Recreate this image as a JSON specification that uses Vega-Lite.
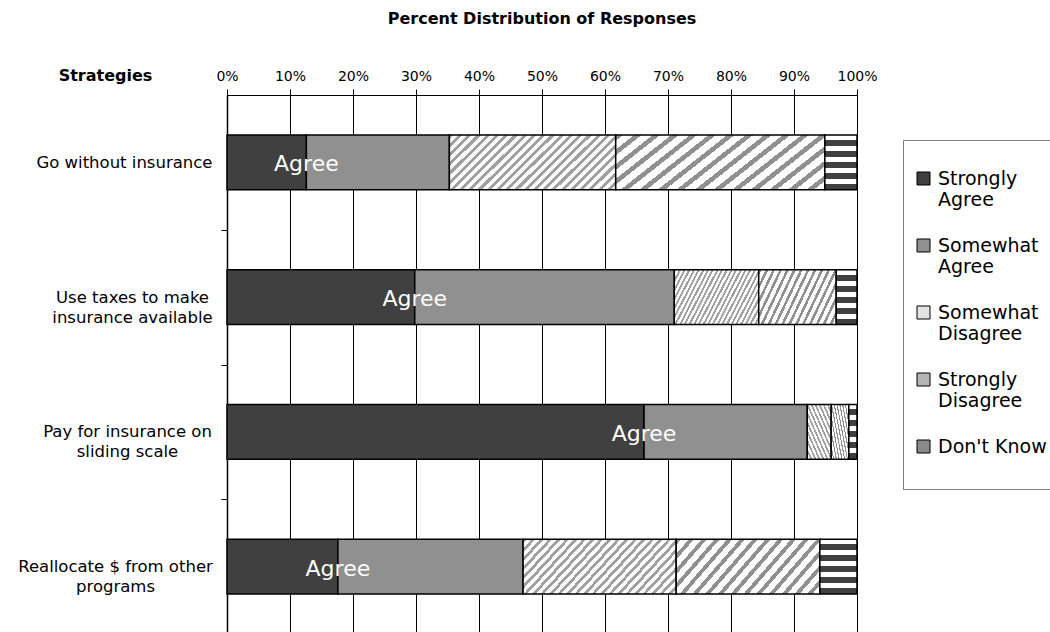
{
  "$schema": "https://vega.github.io/schema/vega-lite/v6.json",
  "width": 630,
  "height": 539,
  "autosize": "none",
  "padding": {"left": 227, "top": 95, "right": 193, "bottom": 0},
  "background": "white",
  "config": {"font": "DejaVu Sans", "view": {"stroke": null}},
  "title": {"text": "Percent Distribution of Responses", "fontSize": 16, "fontWeight": "bold", "font": "DejaVu Sans", "anchor": "middle", "offset": 40, "color": "black"},
  "data": {"values": [
    {"strategy": "Go without insurance", "response": "Strongly Agree", "k": 1, "pct": 12.6},
    {"strategy": "Go without insurance", "response": "Somewhat Agree", "k": 2, "pct": 22.7},
    {"strategy": "Go without insurance", "response": "Somewhat Disagree", "k": 3, "pct": 26.4},
    {"strategy": "Go without insurance", "response": "Strongly Disagree", "k": 4, "pct": 33.2},
    {"strategy": "Go without insurance", "response": "Don't Know", "k": 5, "pct": 5.1},
    {"strategy": "Use taxes to make insurance available", "response": "Strongly Agree", "k": 1, "pct": 29.8},
    {"strategy": "Use taxes to make insurance available", "response": "Somewhat Agree", "k": 2, "pct": 41.2},
    {"strategy": "Use taxes to make insurance available", "response": "Somewhat Disagree", "k": 3, "pct": 13.4},
    {"strategy": "Use taxes to make insurance available", "response": "Strongly Disagree", "k": 4, "pct": 12.3},
    {"strategy": "Use taxes to make insurance available", "response": "Don't Know", "k": 5, "pct": 3.3},
    {"strategy": "Pay for insurance on sliding scale", "response": "Strongly Agree", "k": 1, "pct": 66.2},
    {"strategy": "Pay for insurance on sliding scale", "response": "Somewhat Agree", "k": 2, "pct": 25.9},
    {"strategy": "Pay for insurance on sliding scale", "response": "Somewhat Disagree", "k": 3, "pct": 3.8},
    {"strategy": "Pay for insurance on sliding scale", "response": "Strongly Disagree", "k": 4, "pct": 2.8},
    {"strategy": "Pay for insurance on sliding scale", "response": "Don't Know", "k": 5, "pct": 1.3},
    {"strategy": "Reallocate $ from other programs", "response": "Strongly Agree", "k": 1, "pct": 17.6},
    {"strategy": "Reallocate $ from other programs", "response": "Somewhat Agree", "k": 2, "pct": 29.4},
    {"strategy": "Reallocate $ from other programs", "response": "Somewhat Disagree", "k": 3, "pct": 24.3},
    {"strategy": "Reallocate $ from other programs", "response": "Strongly Disagree", "k": 4, "pct": 22.8},
    {"strategy": "Reallocate $ from other programs", "response": "Don't Know", "k": 5, "pct": 5.9}
  ]},
  "layer": [
    {
      "mark": {"type": "bar", "stroke": "black", "strokeWidth": 1.5},
      "encoding": {
        "y": {"field": "strategy", "type": "nominal", "sort": null,
          "scale": {"paddingInner": 0.593, "paddingOuter": 0.296},
          "axis": {"title": "Strategies", "titleAngle": 0, "titleX": -122, "titleY": -20, "titleAlign": "center", "titleBaseline": "middle", "titleFontSize": 16, "titleFontWeight": "bold", "titleColor": "black", "titleFont": "DejaVu Sans",
            "labelAlign": {"condition": {"test": "datum.value == 'Go without insurance'", "value": "right"}, "value": "center"},
            "labelPadding": {"condition": [{"test": "datum.value == 'Go without insurance'", "value": 9}, {"test": "datum.value == 'Use taxes to make insurance available'", "value": 89}, {"test": "datum.value == 'Pay for insurance on sliding scale'", "value": 94}], "value": 106},
            "labelFontSize": 16.5, "labelLineHeight": 20, "labelColor": "black", "labelFont": "DejaVu Sans", "labelLimit": 300,
            "labelExpr": "datum.label == 'Use taxes to make insurance available' ? ['Use taxes to make','insurance available'] : datum.label == 'Pay for insurance on sliding scale' ? ['Pay for insurance on','sliding scale'] : datum.label == 'Reallocate $ from other programs' ? ['Reallocate $ from other','programs'] : datum.label",
            "tickOffset": 67.4, "labelOffset": -67.4, "tickSize": 6, "tickColor": "black", "domainColor": "black", "domainWidth": 1.5}},
        "x": {"field": "pct", "type": "quantitative", "stack": "zero", "scale": {"domain": [0, 100]},
          "axis": {"orient": "top", "title": null, "values": [0, 10, 20, 30, 40, 50, 60, 70, 80, 90, 100], "labelExpr": "datum.value + '%'", "labelFlush": false, "grid": true, "gridColor": "black", "gridWidth": 1, "gridOpacity": 1, "domainColor": "black", "tickColor": "black", "tickSize": 6, "labelFontSize": 14, "labelColor": "black", "labelPadding": 6, "labelFont": "DejaVu Sans"}},
        "order": {"field": "k", "type": "quantitative"},
        "fill": {"field": "response", "type": "nominal",
          "scale": {"domain": ["Strongly Agree", "Somewhat Agree", "Somewhat Disagree", "Strongly Disagree", "Don't Know"], "range": ["#404040", "#909090", "#e2e2e2", "#b4b4b4", "#8a8a8a"]},
          "legend": {"orient": "none", "legendX": 676, "legendY": 45, "title": " ", "titleFontSize": 12, "titlePadding": 6, "fillColor": "white", "strokeColor": "#7f7f7f", "padding": 11, "symbolType": "square", "symbolSize": 169, "symbolStrokeColor": "black", "symbolStrokeWidth": 1, "labelFontSize": 19, "labelColor": "black", "labelFont": "DejaVu Sans", "labelOffset": 5, "rowPadding": 26, "labelLineHeight": 22, "labelLimit": 300,
            "labelExpr": "datum.label === \"Don't Know\" ? [datum.label, ''] : split(datum.label, ' ')"},
          "condition": [
            {"test": "datum.response === 'Somewhat Disagree'", "value": {"gradient": "linear", "x1": 0, "y1": 0, "x2": 1.2, "y2": 0.4, "stops": [
              {"offset": 0, "color": "#a0a0a0"}, {"offset": 0.0188, "color": "#a0a0a0"}, {"offset": 0.0188, "color": "white"}, {"offset": 0.0417, "color": "white"},
              {"offset": 0.0417, "color": "#a0a0a0"}, {"offset": 0.0604, "color": "#a0a0a0"}, {"offset": 0.0604, "color": "white"}, {"offset": 0.0833, "color": "white"},
              {"offset": 0.0833, "color": "#a0a0a0"}, {"offset": 0.1021, "color": "#a0a0a0"}, {"offset": 0.1021, "color": "white"}, {"offset": 0.125, "color": "white"},
              {"offset": 0.125, "color": "#a0a0a0"}, {"offset": 0.1438, "color": "#a0a0a0"}, {"offset": 0.1438, "color": "white"}, {"offset": 0.1667, "color": "white"},
              {"offset": 0.1667, "color": "#a0a0a0"}, {"offset": 0.1854, "color": "#a0a0a0"}, {"offset": 0.1854, "color": "white"}, {"offset": 0.2083, "color": "white"},
              {"offset": 0.2083, "color": "#a0a0a0"}, {"offset": 0.2271, "color": "#a0a0a0"}, {"offset": 0.2271, "color": "white"}, {"offset": 0.25, "color": "white"},
              {"offset": 0.25, "color": "#a0a0a0"}, {"offset": 0.2688, "color": "#a0a0a0"}, {"offset": 0.2688, "color": "white"}, {"offset": 0.2917, "color": "white"},
              {"offset": 0.2917, "color": "#a0a0a0"}, {"offset": 0.3104, "color": "#a0a0a0"}, {"offset": 0.3104, "color": "white"}, {"offset": 0.3333, "color": "white"},
              {"offset": 0.3333, "color": "#a0a0a0"}, {"offset": 0.3521, "color": "#a0a0a0"}, {"offset": 0.3521, "color": "white"}, {"offset": 0.375, "color": "white"},
              {"offset": 0.375, "color": "#a0a0a0"}, {"offset": 0.3938, "color": "#a0a0a0"}, {"offset": 0.3938, "color": "white"}, {"offset": 0.4167, "color": "white"},
              {"offset": 0.4167, "color": "#a0a0a0"}, {"offset": 0.4354, "color": "#a0a0a0"}, {"offset": 0.4354, "color": "white"}, {"offset": 0.4583, "color": "white"},
              {"offset": 0.4583, "color": "#a0a0a0"}, {"offset": 0.4771, "color": "#a0a0a0"}, {"offset": 0.4771, "color": "white"}, {"offset": 0.5, "color": "white"},
              {"offset": 0.5, "color": "#a0a0a0"}, {"offset": 0.5188, "color": "#a0a0a0"}, {"offset": 0.5188, "color": "white"}, {"offset": 0.5417, "color": "white"},
              {"offset": 0.5417, "color": "#a0a0a0"}, {"offset": 0.5604, "color": "#a0a0a0"}, {"offset": 0.5604, "color": "white"}, {"offset": 0.5833, "color": "white"},
              {"offset": 0.5833, "color": "#a0a0a0"}, {"offset": 0.6021, "color": "#a0a0a0"}, {"offset": 0.6021, "color": "white"}, {"offset": 0.625, "color": "white"},
              {"offset": 0.625, "color": "#a0a0a0"}, {"offset": 0.6438, "color": "#a0a0a0"}, {"offset": 0.6438, "color": "white"}, {"offset": 0.6667, "color": "white"},
              {"offset": 0.6667, "color": "#a0a0a0"}, {"offset": 0.6854, "color": "#a0a0a0"}, {"offset": 0.6854, "color": "white"}, {"offset": 0.7083, "color": "white"},
              {"offset": 0.7083, "color": "#a0a0a0"}, {"offset": 0.7271, "color": "#a0a0a0"}, {"offset": 0.7271, "color": "white"}, {"offset": 0.75, "color": "white"},
              {"offset": 0.75, "color": "#a0a0a0"}, {"offset": 0.7688, "color": "#a0a0a0"}, {"offset": 0.7688, "color": "white"}, {"offset": 0.7917, "color": "white"},
              {"offset": 0.7917, "color": "#a0a0a0"}, {"offset": 0.8104, "color": "#a0a0a0"}, {"offset": 0.8104, "color": "white"}, {"offset": 0.8333, "color": "white"},
              {"offset": 0.8333, "color": "#a0a0a0"}, {"offset": 0.8521, "color": "#a0a0a0"}, {"offset": 0.8521, "color": "white"}, {"offset": 0.875, "color": "white"},
              {"offset": 0.875, "color": "#a0a0a0"}, {"offset": 0.8938, "color": "#a0a0a0"}, {"offset": 0.8938, "color": "white"}, {"offset": 0.9167, "color": "white"},
              {"offset": 0.9167, "color": "#a0a0a0"}, {"offset": 0.9354, "color": "#a0a0a0"}, {"offset": 0.9354, "color": "white"}, {"offset": 0.9583, "color": "white"},
              {"offset": 0.9583, "color": "#a0a0a0"}, {"offset": 0.9771, "color": "#a0a0a0"}, {"offset": 0.9771, "color": "white"}, {"offset": 1, "color": "white"}
            ]}},
            {"test": "datum.response === 'Strongly Disagree'", "value": {"gradient": "linear", "x1": 0, "y1": 0, "x2": 1.2, "y2": 0.4, "stops": [
              {"offset": 0, "color": "#909090"}, {"offset": 0.0267, "color": "#909090"}, {"offset": 0.0267, "color": "white"}, {"offset": 0.0667, "color": "white"},
              {"offset": 0.0667, "color": "#909090"}, {"offset": 0.0933, "color": "#909090"}, {"offset": 0.0933, "color": "white"}, {"offset": 0.1333, "color": "white"},
              {"offset": 0.1333, "color": "#909090"}, {"offset": 0.16, "color": "#909090"}, {"offset": 0.16, "color": "white"}, {"offset": 0.2, "color": "white"},
              {"offset": 0.2, "color": "#909090"}, {"offset": 0.2267, "color": "#909090"}, {"offset": 0.2267, "color": "white"}, {"offset": 0.2667, "color": "white"},
              {"offset": 0.2667, "color": "#909090"}, {"offset": 0.2933, "color": "#909090"}, {"offset": 0.2933, "color": "white"}, {"offset": 0.3333, "color": "white"},
              {"offset": 0.3333, "color": "#909090"}, {"offset": 0.36, "color": "#909090"}, {"offset": 0.36, "color": "white"}, {"offset": 0.4, "color": "white"},
              {"offset": 0.4, "color": "#909090"}, {"offset": 0.4267, "color": "#909090"}, {"offset": 0.4267, "color": "white"}, {"offset": 0.4667, "color": "white"},
              {"offset": 0.4667, "color": "#909090"}, {"offset": 0.4933, "color": "#909090"}, {"offset": 0.4933, "color": "white"}, {"offset": 0.5333, "color": "white"},
              {"offset": 0.5333, "color": "#909090"}, {"offset": 0.56, "color": "#909090"}, {"offset": 0.56, "color": "white"}, {"offset": 0.6, "color": "white"},
              {"offset": 0.6, "color": "#909090"}, {"offset": 0.6267, "color": "#909090"}, {"offset": 0.6267, "color": "white"}, {"offset": 0.6667, "color": "white"},
              {"offset": 0.6667, "color": "#909090"}, {"offset": 0.6933, "color": "#909090"}, {"offset": 0.6933, "color": "white"}, {"offset": 0.7333, "color": "white"},
              {"offset": 0.7333, "color": "#909090"}, {"offset": 0.76, "color": "#909090"}, {"offset": 0.76, "color": "white"}, {"offset": 0.8, "color": "white"},
              {"offset": 0.8, "color": "#909090"}, {"offset": 0.8267, "color": "#909090"}, {"offset": 0.8267, "color": "white"}, {"offset": 0.8667, "color": "white"},
              {"offset": 0.8667, "color": "#909090"}, {"offset": 0.8933, "color": "#909090"}, {"offset": 0.8933, "color": "white"}, {"offset": 0.9333, "color": "white"},
              {"offset": 0.9333, "color": "#909090"}, {"offset": 0.96, "color": "#909090"}, {"offset": 0.96, "color": "white"}, {"offset": 1, "color": "white"}
            ]}},
            {"test": "datum.response === \"Don't Know\"", "value": {"gradient": "linear", "x1": 0, "y1": 0, "x2": 0, "y2": 1, "stops": [
              {"offset": 0, "color": "white"}, {"offset": 0.09, "color": "white"}, {"offset": 0.09, "color": "#404040"}, {"offset": 0.2, "color": "#404040"},
              {"offset": 0.2, "color": "white"}, {"offset": 0.29, "color": "white"}, {"offset": 0.29, "color": "#404040"}, {"offset": 0.4, "color": "#404040"},
              {"offset": 0.4, "color": "white"}, {"offset": 0.49, "color": "white"}, {"offset": 0.49, "color": "#404040"}, {"offset": 0.6, "color": "#404040"},
              {"offset": 0.6, "color": "white"}, {"offset": 0.69, "color": "white"}, {"offset": 0.69, "color": "#404040"}, {"offset": 0.8, "color": "#404040"},
              {"offset": 0.8, "color": "white"}, {"offset": 0.89, "color": "white"}, {"offset": 0.89, "color": "#404040"}, {"offset": 1, "color": "#404040"}
            ]}}
          ]
        }
      }
    },
    {
      "transform": [{"filter": "datum.response === 'Strongly Agree'"}],
      "mark": {"type": "text", "color": "white", "fontSize": 22, "baseline": "alphabetic", "align": "center", "dy": 9, "font": "DejaVu Sans"},
      "encoding": {
        "y": {"field": "strategy", "type": "nominal", "sort": null},
        "x": {"field": "pct", "type": "quantitative"},
        "text": {"value": "Agree"}
      }
    }
  ]
}
